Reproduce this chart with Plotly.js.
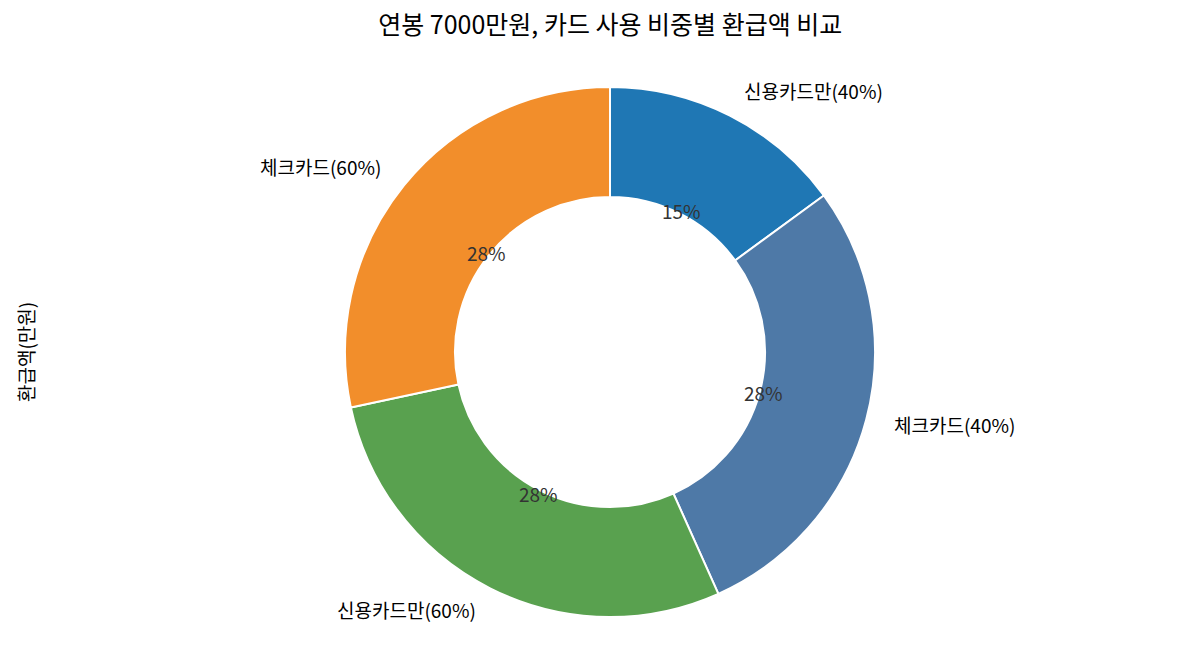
<!DOCTYPE html>
<html>
<head>
<meta charset="utf-8">
<script src="https://cdn.plot.ly/plotly-3.0.1.min.js"></script>
<style>
  html, body { margin: 0; padding: 0; background: #fff; }
  #chart { width: 1185px; height: 660px; }
</style>
</head>
<body>
<div id="chart"></div>
<script>
// 환급액(만원) by card usage mix, salary 7000만원
const labels = ['신용카드만(40%)', '체크카드(40%)', '신용카드만(60%)', '체크카드(60%)'];
const refunds = [53.5, 101.5, 101.5, 101.5];
const colors = ['#1f77b4', '#4e79a7', '#59a14f', '#f28e2b'];

const W = 1185, H = 660;
const margin = { t: 87, b: 43, l: 35, r: 0 };
const plotW = W - margin.l - margin.r;
const plotH = H - margin.t - margin.b;
const radiusPx = Math.min(plotW, plotH) / 2;
const font = 'Noto Sans CJK KR, Noto Sans, sans-serif';

// matplotlib-like label placement: category at 1.1r, percent at 0.6r
const total = refunds.reduce((a, b) => a + b, 0);
const annotations = [];
let start = 0;
refunds.forEach((v, i) => {
    const mid = (start + v / 2) / total * 2 * Math.PI; // clockwise from top
    start += v;
    const sx = Math.sin(mid), cy = Math.cos(mid);
    const toPaper = (r) => ({
        x: 0.5 + r * sx * radiusPx / plotW,
        y: 0.5 + r * cy * radiusPx / plotH
    });
    const outer = toPaper(1.1);
    annotations.push({
        x: outer.x, y: outer.y + 2 / plotH, xref: 'paper', yref: 'paper',
        text: labels[i], showarrow: false,
        xanchor: sx >= 0 ? 'left' : 'right', yanchor: 'middle',
        font: { family: font, size: 19, color: '#000' }
    });
    const inner = toPaper(0.6);
    annotations.push({
        x: inner.x, y: inner.y, xref: 'paper', yref: 'paper',
        text: Math.round(v / total * 100) + '%', showarrow: false,
        xanchor: 'center', yanchor: 'middle',
        font: { family: font, size: 19, color: '#333' }
    });
});

// y-axis style label on the left, placed in pixels -> paper
annotations.push({
    x: (25 - margin.l) / plotW, y: (H - margin.b - 352) / plotH,
    xref: 'paper', yref: 'paper', xanchor: 'center', yanchor: 'middle',
    text: '환급액(만원)', showarrow: false, textangle: -90,
    font: { family: font, size: 19, color: '#000' }
});

const data = [{
    type: 'pie',
    labels: labels,
    values: refunds,
    sort: false,
    direction: 'clockwise',
    rotation: 0,
    hole: 0.585,
    marker: { colors: colors, line: { color: '#fff', width: 2 } },
    textinfo: 'none',
    hoverinfo: 'label+value+percent',
    showlegend: false
}];

const layout = {
    width: W, height: H,
    margin: margin,
    paper_bgcolor: '#fff',
    plot_bgcolor: '#fff',
    font: { family: font, color: '#000' },
    title: {
        text: '연봉 7000만원, 카드 사용 비중별 환급액 비교',
        x: 0.515, xanchor: 'center', y: 0.962, yanchor: 'middle',
        font: { family: font, size: 25, color: '#000' }
    },
    annotations: annotations,
    showlegend: false
};

Plotly.newPlot('chart', data, layout, { displayModeBar: false });
</script>
</body>
</html>
